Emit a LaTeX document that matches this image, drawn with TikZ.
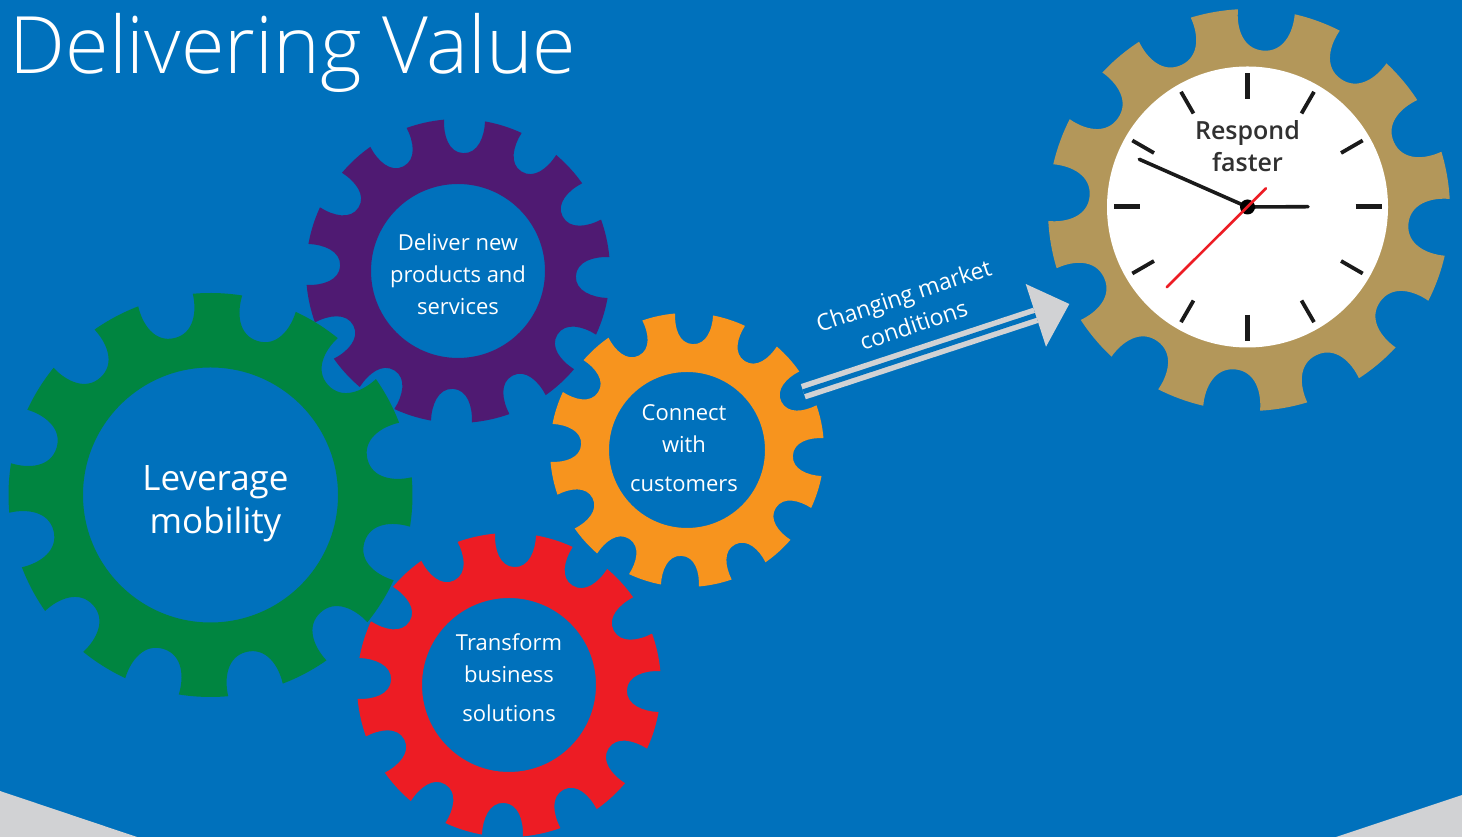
\documentclass[tikz,border=0pt]{standalone}
\usepackage{fontspec}
\usetikzlibrary{calc}
\setmainfont{Open Sans}
\newfontfamily\lightfont{Open Sans Light}
\newfontfamily\semifont{Open Sans Semibold}
\definecolor{bgblue}{HTML}{0071BC}
\definecolor{gearGreen}{HTML}{008540}
\definecolor{gearPurple}{HTML}{4F1A72}
\definecolor{gearOrange}{HTML}{F7941E}
\definecolor{gearRed}{HTML}{ED1C24}
\definecolor{gearTan}{HTML}{B3975A}
\definecolor{paleGrey}{HTML}{D1D2D4}
\definecolor{tickBlack}{HTML}{1A1A1A}
\tikzset{
  gearlabel/.style={text=white,align=center,inner sep=0pt,font=\fontsize{22}{32}\selectfont},
  marketlabel/.style={text=white,align=center,inner sep=0pt,font=\fontsize{23}{31}\selectfont},
  biglabel/.style={text=white,align=center,inner sep=0pt,font=\fontsize{35}{43}\selectfont},
  clocklabel/.style={text=tickBlack!90,align=center,inner sep=0pt,font=\semifont\fontsize{25}{32}\selectfont},
  titlelabel/.style={text=white,inner sep=0pt,anchor=base west,font=\lightfont\fontsize{79.2}{80}\selectfont},
  tickmark/.style={draw=tickBlack,line width=3.8pt},
  tickbig/.style={draw=tickBlack,line width=5pt},
  hand/.style={draw=tickBlack,line width=3.6pt,line cap=round},
  seconds/.style={draw=gearRed,line width=2.6pt,line cap=round},
  shaft/.style={draw=paleGrey,line width=5.5pt,double=bgblue,double distance=5pt},
}
% \gearshape{cx}{cy (from top)}{outer R}{hole r}{first notch angle}{notch depth}{half width of mouth}{colour}
\newcommand{\gearshape}[8]{%
  \begin{scope}[shift={(#1,{837-#2})}]
    \pgfmathsetmacro{\gR}{#3}
    \pgfmathsetmacro{\gD}{#6}
    \pgfmathsetmacro{\gH}{#7}
    \pgfmathsetmacro{\gW}{asin(\gH/\gR)}
    \pgfmathsetmacro{\gO}{#5}
    \fill[#8,even odd rule] ({\gO-\gW}:\gR)
      foreach \i [evaluate=\i as \a using \gO+30*\i] in {0,...,11} {
        .. controls ([rotate=\a]{\gR-0.5*\gD},{-1.0*\gH}) and ([rotate=\a]{\gR-\gD},{-0.72*\gH}) .. ([rotate=\a]{\gR-\gD},0)
        .. controls ([rotate=\a]{\gR-\gD},{0.72*\gH}) and ([rotate=\a]{\gR-0.5*\gD},{1.0*\gH}) .. (\a+\gW:\gR)
        arc[start angle=\a+\gW, end angle=\a+30-\gW, radius=\gR]
      } -- cycle
      (0,0) circle[radius=#4];
  \end{scope}}
\begin{document}
\begin{tikzpicture}[x=1pt,y=1pt]
\useasboundingbox (0,0) rectangle (1462,837);
\fill[bgblue] (0,0) rectangle (1462,837);
% corner wedges
\fill[paleGrey] (0,46) -- (137,0) -- (0,0) -- cycle;
\fill[paleGrey] (1462,42) -- (1336,0) -- (1462,0) -- cycle;
% gears
\gearshape{458}{271}{152}{87}{87.5}{34}{20.5}{gearPurple}
\gearshape{509}{685}{152}{87}{87.5}{34}{20.5}{gearRed}
\gearshape{210.5}{495}{202}{127.5}{13}{41}{28}{gearGreen}
\gearshape{687}{450}{137}{78}{87}{31}{19}{gearOrange}
\gearshape{1249}{210}{201}{100}{85}{41}{28.5}{gearTan}
% title
\node[titlelabel] (title) at (9.5,{837-74}) {Delivering Value};
% gear labels
\node[biglabel] (leverage) at (215.5,{837-503.5}) {Leverage\\mobility};
\node[gearlabel] (deliver) at (458,{837-274}) {Deliver new\\products and\\services};
\node[gearlabel] (connect) at (684,{837-448}) {Connect\\with\\[7pt]customers};
\node[gearlabel] (transform) at (509,{837-678}) {Transform\\business\\[7pt]solutions};
% clock
\node[circle,fill=white,inner sep=0pt,minimum size=281pt] (face) at (1247.5,{837-207}) {};
\foreach \a in {30,60,120,150,210,240,300,330} {
  \draw[tickmark] ([shift={(\a:108)}]face.center) -- ([shift={(\a:133)}]face.center);
}
\foreach \a in {0,90,180,270} {
  \draw[tickbig] ([shift={(\a:108)}]face.center) -- ([shift={(\a:134)}]face.center);
}
\node[clocklabel] (respond) at (1247.5,{837-146}) {Respond\\faster};
\coordinate (minuteEnd) at (1139.3,{837-159.3});
\coordinate (hourEnd) at (1308,{837-206.7});
\coordinate (redA) at (1166.7,{837-287.3});
\coordinate (redB) at (1266,{837-188.3});
\draw[hand] (face.center) -- (minuteEnd);
\draw[hand] (face.center) -- (hourEnd);
\fill[black] (face.center) circle[radius=7.5];
\draw[seconds] (redA) -- (redB);
% arrow
\coordinate (arrowStart) at (803.3,{837-391.7});
\coordinate (arrowBase) at (1035.8,{837-315.3});
\coordinate (headA) at (1025.7,{837-284});
\coordinate (headB) at (1046,{837-346.7});
\coordinate (arrowTip) at (1069.3,{837-304});
\draw[shaft] (arrowStart) -- (arrowBase);
\fill[paleGrey] (headA) -- (arrowTip) -- (headB) -- cycle;
\node[marketlabel,rotate=18.5] (market) at (908.5,{837-310}) {Changing market\\conditions};
\end{tikzpicture}
\end{document}
